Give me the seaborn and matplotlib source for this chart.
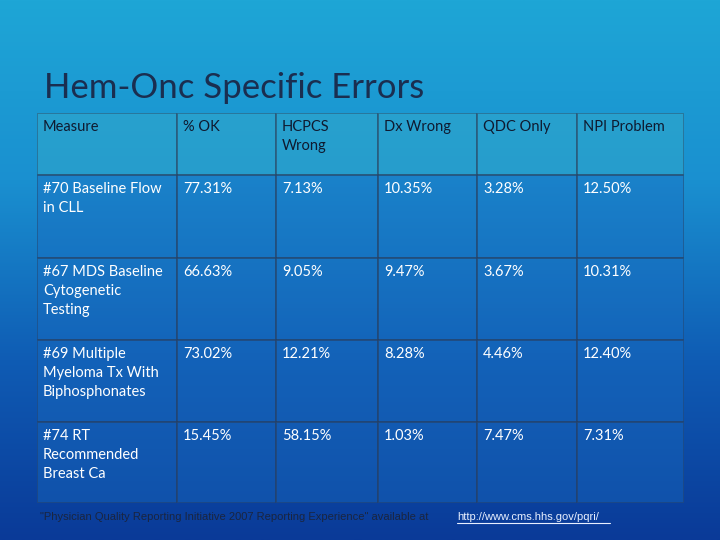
import numpy as np
import matplotlib.pyplot as plt
import seaborn as sns
from matplotlib.colors import LinearSegmentedColormap

sns.set_theme(style="white")
plt.rcParams['font.family'] = ['Lato', 'DejaVu Sans']

title = "Hem-Onc Specific Errors"
columns = ["Measure", "% OK", "HCPCS\nWrong", "Dx Wrong", "QDC Only", "NPI Problem"]
measures = ["#70 Baseline Flow\nin CLL", "#67 MDS Baseline\nCytogenetic\nTesting",
            "#69 Multiple\nMyeloma Tx With\nBiphosphonates", "#74 RT\nRecommended\nBreast Ca"]
pct_ok = ["77.31%", "66.63%", "73.02%", "15.45%"]
hcpcs = ["7.13%", "9.05%", "12.21%", "58.15%"]
dx = ["10.35%", "9.47%", "8.28%", "1.03%"]
qdc = ["3.28%", "3.67%", "4.46%", "7.47%"]
npi = ["12.50%", "10.31%", "12.40%", "7.31%"]
footer = "\"Physician Quality Reporting Initiative 2007 Reporting Experience\" available at "
url = "http://www.cms.hhs.gov/pqri/"

W, H = 720, 540
fig = plt.figure(figsize=(7.2, 5.4), dpi=100)
bg = fig.add_axes([0, 0, 1, 1])
grad = np.linspace(0, 1, 256)[:, None]
bgcmap = LinearSegmentedColormap.from_list("bg", ["#1ea6d6", "#1a90d0", "#0f5cb4", "#0a3a98"])
bg.imshow(grad, aspect="auto", cmap=bgcmap, extent=[0, 1, 0, 1], origin="upper")
bg.set_axis_off()
fig.text(44 / W, 1 - 88 / H, title, fontsize=25, color="#1a2e50", va="center", ha="left")

# table geometry in pixels
xs = [37, 177, 276, 378, 477, 577, 684]
ys = [113, 175, 258, 340, 422, 503]
ax = fig.add_axes([xs[0] / W, 1 - ys[-1] / H, (xs[-1] - xs[0]) / W, (ys[-1] - ys[0]) / H])
ax.set_xlim(xs[0], xs[-1])
ax.set_ylim(ys[-1], ys[0])
kind = np.array([[0] * 6] + [[1] * 6] * 4)
cellcmap = LinearSegmentedColormap.from_list("c", ["#3ab0c8", "#1a6cc0"])
ax.pcolormesh(xs, ys, kind, cmap=cellcmap, alpha=0.4, edgecolors="#2a3a55", linewidth=1.2)
ax.set_axis_off()

rows = [columns] + [list(r) for r in zip(measures, pct_ok, hcpcs, dx, qdc, npi)]
for i, row in enumerate(rows):
    for j, txt in enumerate(row):
        ax.text(xs[j] + 6, ys[i] + 7, txt, fontsize=10.5, va="top", ha="left",
                color="#0f1a30" if i == 0 else "white", linespacing=1.45)

fig.text(40 / W, 1 - 517 / H, footer, fontsize=8, color="#1a2540", va="center", ha="left",
         family=["Liberation Sans", "DejaVu Sans"])
fig.text(457 / W, 1 - 517 / H, url, fontsize=8, color="#e8f0ff", va="center", ha="left",
         family=["Liberation Sans", "DejaVu Sans"])
bg.plot([457 / W, 610 / W], [1 - 523 / H] * 2, color="#e8f0ff", lw=0.8)
bg.set_xlim(0, 1)
bg.set_ylim(0, 1)
fig.savefig("out.png", dpi=100)
